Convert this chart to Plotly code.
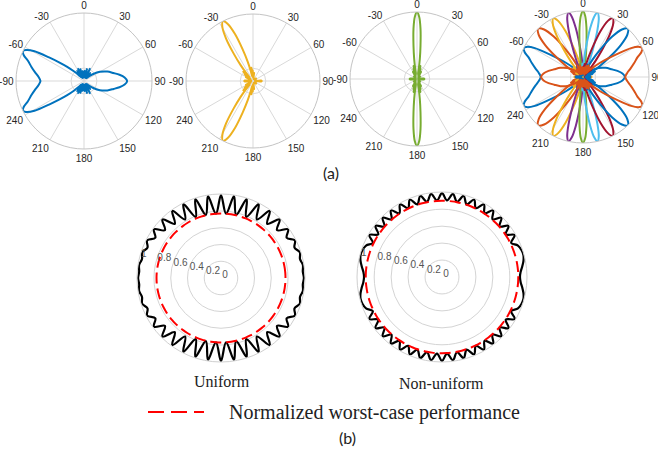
import plotly.graph_objects as go

W, H = 658, 462

# ---------------- data: beam patterns (compass angle in deg, normalized gain) -------------
ANG_TICKS = [0, 30, 60, 90, 120, 150, 180, 210, 240, 270, 300, 330]
ANG_LABELS = ['0', '30', '60', '90', '120', '150', '180', '210', '240', '-90', '-60', '-30']

BEAM_N64 = [(218,0.07),(222,0.12),(226,0.2),(230,0.33),(233,0.45),(236,0.62),(239,0.85),(242,0.97),(244,1.0),(247,0.96),(250,0.88),(255,0.8),(260,0.73),(265,0.67),(270,0.64),(275,0.67),(280,0.73),(285,0.8),(290,0.88),(293,0.96),(296,1.0),(298,0.97),(301,0.85),(304,0.62),(307,0.45),(310,0.33),(314,0.2),(318,0.12),(322,0.07),
            (326,0.18),(330,0.05),(334,0.2),(338,0.06),(343,0.18),(348,0.05),(353,0.15),(358,0.05),(3,0.15),(8,0.05),(14,0.18),(20,0.06),(26,0.2),(32,0.05),(38,0.15),(43,0.06),
            (47,0.1),(53,0.17),(60,0.27),(68,0.37),(75,0.45),(80,0.53),(85,0.6),(90,0.635),(95,0.6),(100,0.53),(105,0.45),(112,0.37),(120,0.27),(127,0.17),(133,0.1),
            (137,0.06),(142,0.15),(148,0.05),(154,0.2),(160,0.06),(166,0.18),(172,0.05),(177,0.15),(182,0.05),(187,0.15),(192,0.05),(197,0.18),(202,0.06),(206,0.2),(210,0.05),(214,0.18),(218,0.07)]

BEAM_P64 = [(142,0.07),(138,0.12),(134,0.2),(130,0.33),(127,0.45),(124,0.62),(121,0.85),(118,0.97),(116,1.0),(113,0.96),(110,0.88),(105,0.8),(100,0.73),(95,0.67),(90,0.64),(85,0.67),(80,0.73),(75,0.8),(70,0.88),(67,0.96),(64,1.0),(62,0.97),(59,0.85),(56,0.62),(53,0.45),(50,0.33),(46,0.2),(42,0.12),(38,0.07),
            (34,0.18),(30,0.05),(26,0.2),(22,0.06),(17,0.18),(12,0.05),(7,0.15),(2,0.05),(357,0.15),(352,0.05),(346,0.18),(340,0.06),(334,0.2),(328,0.05),(322,0.15),(317,0.06),
            (313,0.1),(307,0.17),(300,0.27),(292,0.37),(285,0.45),(280,0.53),(275,0.6),(270,0.635),(265,0.6),(260,0.53),(255,0.45),(248,0.37),(240,0.27),(233,0.17),(227,0.1),
            (223,0.06),(218,0.15),(212,0.05),(206,0.2),(200,0.06),(194,0.18),(188,0.05),(183,0.15),(178,0.05),(173,0.15),(168,0.05),(163,0.18),(158,0.06),(154,0.2),(150,0.05),(146,0.18),(142,0.07)]

BEAM_0 = [(348,0.07),(350,0.15),(352,0.3),(354,0.5),(356,0.75),(358,0.93),(0,1.0),(2,0.93),(4,0.75),(6,0.5),(8,0.3),(10,0.15),(12,0.07),
          (14.5,0.2),(17.5,0.05),(20.5,0.16),(24.5,0.04),(29.5,0.12),(37,0.03),(50,0.06),(65,0.02),(82,0.03),(86,0.1),(90,0.11),(94,0.1),(98,0.03),(115,0.02),(130,0.06),(143,0.03),(150.5,0.12),(155.5,0.04),(159.5,0.16),(162.5,0.05),(165.5,0.2),
          (168,0.07),(170,0.15),(172,0.3),(174,0.5),(176,0.75),(178,0.93),(180,1.0),(182,0.93),(184,0.75),(186,0.5),(188,0.3),(190,0.15),(192,0.07),
          (194.5,0.2),(197.5,0.05),(200.5,0.16),(204.5,0.04),(209.5,0.12),(217,0.03),(230,0.06),(245,0.02),(262,0.03),(266,0.1),(270,0.11),(274,0.1),(278,0.03),(295,0.02),(310,0.06),(323,0.03),(330.5,0.12),(335.5,0.04),(339.5,0.16),(342.5,0.05),(345.5,0.2),(348,0.07)]

BEAM_P13 = [(359.7,0.07),(1.9,0.15),(4.0,0.3),(6.2,0.5),(8.4,0.75),(10.5,0.93),(12.7,1.0),(14.9,0.93),(17.0,0.75),(19.2,0.5),(21.4,0.3),(23.5,0.15),(25.7,0.07),
            (28.2,0.2),(31.2,0.05),(34.2,0.16),(38.2,0.04),(43.2,0.12),(52,0.03),(65,0.06),(82,0.03),(86,0.1),(90,0.11),(94,0.1),(98,0.03),(115,0.06),(128,0.03),(136.8,0.12),(141.8,0.04),(145.8,0.16),(148.8,0.05),(151.8,0.2),
            (154.3,0.07),(156.5,0.15),(158.6,0.3),(160.8,0.5),(163.0,0.75),(165.1,0.93),(167.3,1.0),(169.5,0.93),(171.6,0.75),(173.8,0.5),(176.0,0.3),(178.1,0.15),(180.3,0.07),
            (182.8,0.2),(185.8,0.05),(188.8,0.16),(192.8,0.04),(197.8,0.12),(210,0.03),(235,0.06),(262,0.03),(266,0.1),(270,0.11),(274,0.1),(278,0.03),(305,0.06),(330,0.03),(342.2,0.12),(347.2,0.04),(351.2,0.16),(354.2,0.05),(357.2,0.2),(359.7,0.07)]

BEAM_N13 = [(334.3,0.07),(336.5,0.15),(338.6,0.3),(340.8,0.5),(343.0,0.75),(345.1,0.93),(347.3,1.0),(349.5,0.93),(351.6,0.75),(353.8,0.5),(356.0,0.3),(358.1,0.15),(0.3,0.07),
            (2.8,0.2),(5.8,0.05),(8.8,0.16),(12.8,0.04),(17.8,0.12),(30,0.03),(55,0.06),(82,0.03),(86,0.1),(90,0.11),(94,0.1),(98,0.03),(125,0.06),(150,0.03),(162.2,0.12),(167.2,0.04),(171.2,0.16),(174.2,0.05),(177.2,0.2),
            (179.7,0.07),(181.9,0.15),(184.0,0.3),(186.2,0.5),(188.4,0.75),(190.5,0.93),(192.7,1.0),(194.9,0.93),(197.0,0.75),(199.2,0.5),(201.4,0.3),(203.5,0.15),(205.7,0.07),
            (208.2,0.2),(211.2,0.05),(214.2,0.16),(218.2,0.04),(223.2,0.12),(232,0.03),(245,0.06),(262,0.03),(266,0.1),(270,0.11),(274,0.1),(278,0.03),(295,0.06),(308,0.03),(316.8,0.12),(321.8,0.04),(325.8,0.16),(328.8,0.05),(331.8,0.2),(334.3,0.07)]

BEAM_P27 = [(9.7,0.07),(12.5,0.15),(15.4,0.3),(18.2,0.5),(21.0,0.75),(23.9,0.93),(26.7,1.0),(29.5,0.93),(32.4,0.75),(35.2,0.5),(38.0,0.3),(40.9,0.15),(43.7,0.07),
            (46.2,0.2),(49.2,0.05),(52.2,0.16),(56.2,0.04),(61.2,0.12),(70,0.03),(82,0.03),(86,0.1),(90,0.11),(94,0.1),(98,0.03),(110,0.03),(118.8,0.12),(123.8,0.04),(127.8,0.16),(130.8,0.05),(133.8,0.2),
            (136.3,0.07),(139.1,0.15),(142.0,0.3),(144.8,0.5),(147.6,0.75),(150.5,0.93),(153.3,1.0),(156.1,0.93),(159.0,0.75),(161.8,0.5),(164.6,0.3),(167.5,0.15),(170.3,0.07),
            (172.8,0.2),(175.8,0.05),(178.8,0.16),(182.8,0.04),(187.8,0.12),(200,0.03),(230,0.06),(262,0.03),(266,0.1),(270,0.11),(274,0.1),(278,0.03),(310,0.06),(340,0.03),(352.2,0.12),(357.2,0.04),(1.2,0.16),(4.2,0.05),(7.2,0.2),(9.7,0.07)]

BEAM_N27 = [(316.3,0.07),(319.1,0.15),(322.0,0.3),(324.8,0.5),(327.6,0.75),(330.5,0.93),(333.3,1.0),(336.1,0.93),(339.0,0.75),(341.8,0.5),(344.6,0.3),(347.5,0.15),(350.3,0.07),
            (352.8,0.2),(355.8,0.05),(358.8,0.16),(2.8,0.04),(7.8,0.12),(20,0.03),(50,0.06),(82,0.03),(86,0.12),(90,0.13),(94,0.12),(98,0.03),(130,0.06),(160,0.03),(172.2,0.12),(177.2,0.04),(181.2,0.16),(184.2,0.05),(187.2,0.2),
            (189.7,0.07),(192.5,0.15),(195.4,0.3),(198.2,0.5),(201.0,0.75),(203.9,0.93),(206.7,1.0),(209.5,0.93),(212.4,0.75),(215.2,0.5),(218.0,0.3),(220.9,0.15),(223.7,0.07),
            (226.2,0.2),(229.2,0.05),(232.2,0.16),(236.2,0.04),(241.2,0.12),(250,0.03),(262,0.03),(266,0.12),(270,0.13),(274,0.12),(278,0.03),(290,0.03),(298.8,0.12),(303.8,0.04),(307.8,0.16),(310.8,0.05),(313.8,0.2),(316.3,0.07)]

BEAM_P43 = [(21.8,0.07),(25.3,0.15),(28.8,0.3),(32.3,0.5),(35.8,0.75),(39.3,0.93),(42.8,1.0),(46.3,0.93),(49.8,0.75),(53.3,0.5),(56.8,0.3),(60.3,0.15),(63.8,0.07),
            (66.3,0.2),(69.3,0.05),(72.3,0.16),(76.3,0.04),(82,0.05),(86,0.1),(90,0.11),(94,0.1),(98,0.05),(103.7,0.04),(107.7,0.16),(110.7,0.05),(113.7,0.2),
            (116.2,0.07),(119.7,0.15),(123.2,0.3),(126.7,0.5),(130.2,0.75),(133.7,0.93),(137.2,1.0),(140.7,0.93),(144.2,0.75),(147.7,0.5),(151.2,0.3),(154.7,0.15),(158.2,0.07),
            (160.7,0.2),(163.7,0.05),(166.7,0.16),(170.7,0.04),(175.7,0.12),(190,0.03),(230,0.06),(262,0.03),(266,0.1),(270,0.11),(274,0.1),(278,0.03),(310,0.06),(350,0.03),(4.3,0.12),(9.3,0.04),(13.3,0.16),(16.3,0.05),(19.3,0.2),(21.8,0.07)]

BEAM_N43 = [(296.2,0.07),(299.7,0.15),(303.2,0.3),(306.7,0.5),(310.2,0.75),(313.7,0.93),(317.2,1.0),(320.7,0.93),(324.2,0.75),(327.7,0.5),(331.2,0.3),(334.7,0.15),(338.2,0.07),
            (340.7,0.2),(343.7,0.05),(346.7,0.16),(350.7,0.04),(355.7,0.12),(10,0.03),(50,0.06),(82,0.03),(86,0.1),(90,0.11),(94,0.1),(98,0.03),(130,0.06),(170,0.03),(184.3,0.12),(189.3,0.04),(193.3,0.16),(196.3,0.05),(199.3,0.2),
            (201.8,0.07),(205.3,0.15),(208.8,0.3),(212.3,0.5),(215.8,0.75),(219.3,0.93),(222.8,1.0),(226.3,0.93),(229.8,0.75),(233.3,0.5),(236.8,0.3),(240.3,0.15),(243.8,0.07),
            (246.3,0.2),(249.3,0.05),(252.3,0.16),(256.3,0.04),(262,0.05),(266,0.1),(270,0.11),(274,0.1),(278,0.05),(283.7,0.04),(287.7,0.16),(290.7,0.05),(293.7,0.2),(296.2,0.07)]

BEAMS_ALL = [BEAM_N64, BEAM_N43, BEAM_N27, BEAM_N13, BEAM_0, BEAM_P13, BEAM_P27, BEAM_P43, BEAM_P64]
BEAM_COLORS = ['#0072BD', '#D95319', '#EDB120', '#7E2F8E', '#77AC30', '#4DBEEE', '#A2142F', '#0072BD', '#D95319']

# ---------------- data: normalized performance vs angle (standard angle, ccw) -------------
UNI_STEP = 4.5
UNI_R = [0.99,0.98,0.99,0.97,0.99,0.95,0.99,0.92,0.99,0.88,0.99,0.85,0.99,0.82,0.99,0.79,0.99,0.775,0.99,0.77,
         0.99,0.77,0.99,0.775,0.99,0.79,0.99,0.82,0.99,0.85,0.99,0.88,0.99,0.92,0.99,0.95,0.99,0.97,0.99,0.98,
         0.99,0.98,0.99,0.97,0.99,0.95,0.99,0.92,0.99,0.88,0.99,0.85,0.99,0.82,0.99,0.79,0.99,0.775,0.99,0.77,
         0.99,0.77,0.99,0.775,0.99,0.79,0.99,0.82,0.99,0.85,0.99,0.88,0.99,0.92,0.99,0.95,0.99,0.97,0.99,0.98]
NON_STEP = 3.75
NON_R = [0.92,0.93,0.955,0.98,0.995,0.99,0.97,0.91,0.99,0.905,0.99,0.905,0.99,0.905,0.99,0.905,0.99,0.905,0.99,0.905,
         0.99,0.905,0.99,0.905,0.99,0.905,0.99,0.905,0.99,0.905,0.99,0.905,0.99,0.905,0.99,0.905,0.99,0.905,0.99,0.905,
         0.99,0.91,0.97,0.99,0.995,0.98,0.955,0.93,
         0.92,0.93,0.955,0.98,0.995,0.99,0.97,0.91,0.99,0.905,0.99,0.905,0.99,0.905,0.99,0.905,0.99,0.905,0.99,0.905,
         0.99,0.905,0.99,0.905,0.99,0.905,0.99,0.905,0.99,0.905,0.99,0.905,0.99,0.905,0.99,0.905,0.99,0.905,0.99,0.905,
         0.99,0.91,0.97,0.99,0.995,0.98,0.955,0.93]
WORST_UNI = 0.77
WORST_NON = 0.90
RAD_TICKS = [0, 0.2, 0.4, 0.6, 0.8, 1.0]
RAD_LABELS = ['0', '0.2', '0.4', '0.6', '0.8', '1']

# ---------------- figure ----------------
fig = go.Figure()

def dom(cx, cy, R):
    return dict(x=[(cx - R) / W, (cx + R) / W], y=[1 - (cy + R) / H, 1 - (cy - R) / H])

def add_beam(beam, color, sub):
    fig.add_trace(go.Scatterpolar(
        theta=[p[0] for p in beam], r=[p[1] for p in beam], mode='lines',
        line=dict(color=color, width=2, shape='spline', smoothing=0.8),
        subplot=sub, showlegend=False, hoverinfo='skip'))

add_beam(BEAM_N64, '#0072BD', 'polar')
add_beam(BEAM_N27, '#EDB120', 'polar2')
add_beam(BEAM_0, '#77AC30', 'polar3')
for b, c in zip(BEAMS_ALL, BEAM_COLORS):
    add_beam(b, c, 'polar4')

uni_theta = [UNI_STEP * i for i in range(len(UNI_R))] + [360]
non_theta = [NON_STEP * i for i in range(len(NON_R))] + [360]
fig.add_trace(go.Scatterpolar(theta=uni_theta, r=UNI_R + UNI_R[:1], mode='lines',
                              line=dict(color='black', width=2.2, shape='spline', smoothing=1.0),
                              subplot='polar5', showlegend=False, hoverinfo='skip'))
fig.add_trace(go.Scatterpolar(theta=uni_theta, r=[WORST_UNI] * len(uni_theta), mode='lines',
                              line=dict(color='#FF0000', width=2, dash='11px,5px', shape='spline'),
                              subplot='polar5', showlegend=False, hoverinfo='skip'))
fig.add_trace(go.Scatterpolar(theta=non_theta, r=NON_R + NON_R[:1], mode='lines',
                              line=dict(color='black', width=2.2, shape='spline', smoothing=1.0),
                              subplot='polar6', showlegend=False, hoverinfo='skip'))
fig.add_trace(go.Scatterpolar(theta=non_theta, r=[WORST_NON] * len(non_theta), mode='lines',
                              line=dict(color='#FF0000', width=2, dash='11px,5px', shape='spline'),
                              subplot='polar6', showlegend=False, hoverinfo='skip'))

GRID = '#d9d9d9'
top_ang = dict(rotation=90, direction='clockwise', tickmode='array', tickvals=ANG_TICKS, ticktext=ANG_LABELS,
               showgrid=True, gridcolor=GRID, gridwidth=1, showline=True, linecolor='#c4c4c4', linewidth=1,
               ticks='', tickfont=dict(family='Liberation Sans', size=10, color='#262626'))
top_rad = dict(range=[0, 1], tickmode='array', tickvals=[0.19], showticklabels=False, ticks='', showline=False,
               gridcolor=GRID, gridwidth=1)
bot_ang = dict(showgrid=False, showticklabels=False, ticks='', showline=True, linecolor='#cfcfcf', linewidth=1)
bot_rad = dict(range=[0, 1.003], tickmode='array', tickvals=RAD_TICKS, ticktext=RAD_LABELS, angle=166, tickangle=166,
               showline=False, ticks='', gridcolor='#d4d4d4', gridwidth=1, layer='above traces',
               tickfont=dict(family='Liberation Sans', size=10, color='#555555'))

fig.update_layout(
    width=W, height=H, margin=dict(l=0, r=0, t=0, b=0), paper_bgcolor='white', plot_bgcolor='white',
    polar=dict(domain=dom(84, 81, 68), angularaxis=top_ang, radialaxis=top_rad, bgcolor='white'),
    polar2=dict(domain=dom(253, 81, 67), angularaxis=top_ang, radialaxis=top_rad, bgcolor='white'),
    polar3=dict(domain=dom(417, 79, 67), angularaxis=top_ang, radialaxis=top_rad, bgcolor='white'),
    polar4=dict(domain=dom(583, 77, 66), angularaxis=top_ang, radialaxis=top_rad, bgcolor='white'),
    polar5=dict(domain=dom(221, 278, 84), angularaxis=bot_ang, radialaxis=bot_rad, bgcolor='white'),
    polar6=dict(domain=dom(442, 277, 85), angularaxis=bot_ang, radialaxis=bot_rad, bgcolor='white'),
)

def ann(text, px, py, size, family, xanchor='center'):
    fig.add_annotation(text=text, x=px / W, y=1 - py / H, xref='paper', yref='paper', showarrow=False,
                       xanchor=xanchor, yanchor='middle', font=dict(size=size, family=family, color='#222222'))

ann('(a)', 331, 172, 16, 'Lato')
ann('Uniform', 222, 381, 16, 'Liberation Serif')
ann('Non-uniform', 441, 383, 16, 'Liberation Serif')
ann('Normalized worst-case performance', 227, 412, 20, 'Liberation Serif', xanchor='left')
ann('(b)', 347, 437, 16, 'Lato')

fig.add_shape(type='line', xref='paper', yref='paper', x0=148 / W, x1=204 / W, y0=1 - 412 / H, y1=1 - 412 / H,
              line=dict(color='#FF0000', width=2, dash='16px,7px'))

fig.write_html('out.html', config={'displayModeBar': False, 'staticPlot': True},
               post_script="document.body.style.margin='0px';document.body.style.padding='0px';")
